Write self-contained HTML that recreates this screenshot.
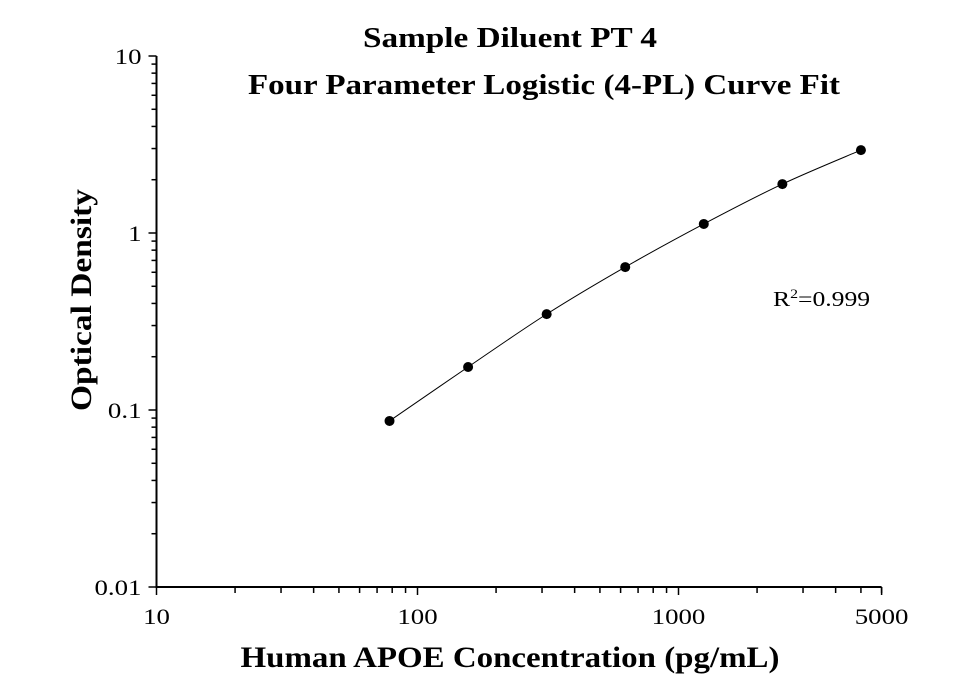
<!DOCTYPE html>
<html><head><meta charset="utf-8"><style>
body{margin:0;background:#fff;}
svg text{font-family:"Liberation Serif",serif;fill:#000;}
</style></head><body>
<svg width="969" height="682">
<text x="510" y="47" text-anchor="middle" font-size="28" font-weight="bold" data-w="294">Sample Diluent PT 4</text>
<text x="544" y="94" text-anchor="middle" font-size="28" font-weight="bold" data-w="592">Four Parameter Logistic (4-PL) Curve Fit</text>
<text transform="translate(91,300) rotate(-90)" text-anchor="middle" font-size="30" font-weight="bold" data-w="222">Optical Density</text>
<text x="510" y="667" text-anchor="middle" font-size="30" font-weight="bold" data-w="539">Human APOE Concentration (pg/mL)</text>
<text x="773" y="306" font-size="21">R<tspan dy="-8" font-size="13">2</tspan><tspan dy="8">=0.999</tspan></text>
<g id="axes"></g>
<g id="plot"></g>
</svg>
<script>
const concentrations=[78.125,156.25,312.5,625,1250,2500,5000];
const odValues=[0.0867,0.175,0.348,0.642,1.125,1.89,2.94];
const xTickLabels=["10","100","1000","5000"];
const xTickValues=[10,100,1000,6000];
const yTickLabels=["0.01","0.1","1","10"];
const yTickValues=[0.01,0.1,1,10];
const NS="http://www.w3.org/2000/svg";
const X0=156.5,XD=261,Y0=233,YD=177;
const xs=v=>X0+(Math.log10(v)-1)*XD;
const ys=v=>Y0-Math.log10(v)*YD;
const axes=document.getElementById('axes'),plot=document.getElementById('plot');
function mk(t,a,p){const e=document.createElementNS(NS,t);for(const k in a)e.setAttribute(k,a[k]);p.appendChild(e);return e;}
const yAxis=mk('line',{x1:X0,x2:X0,y1:ys(10),y2:ys(0.01)+1,stroke:'#000','stroke-width':2},axes);


const xAxis=mk('line',{x1:X0-1,x2:xs(6000),y1:ys(0.01),y2:ys(0.01),stroke:'#000','stroke-width':2},axes);


for(let d=-2;d<1;d++){for(let m=1;m<=9;m++){const v=m*Math.pow(10,d);const y=ys(v);
const t=mk('line',{x1:X0,x2:X0-(m===1?8:5),y1:y,y2:y,stroke:'#000','stroke-width':1.5},axes);

}}
mk('line',{x1:X0,x2:X0-8,y1:ys(10),y2:ys(10),stroke:'#000','stroke-width':1.5},axes);
yTickValues.forEach((v,i)=>{const t=mk('text',{x:X0-15,y:ys(v)+8,'text-anchor':'end','font-size':22},axes);t.textContent=yTickLabels[i];

});
for(let d=1;d<4;d++){for(let m=1;m<=9;m++){const v=m*Math.pow(10,d);if(v>6000)break;const x=xs(v);
const t=mk('line',{x1:x,x2:x,y1:ys(0.01),y2:ys(0.01)+(m===1?8:6),stroke:'#000','stroke-width':1.5},axes);

}}
mk('line',{x1:xs(6000),x2:xs(6000),y1:ys(0.01),y2:ys(0.01)+8,stroke:'#000','stroke-width':1.5},axes);
xTickValues.forEach((v,i)=>{const t=mk('text',{x:xs(v),y:ys(0.01)+37,'text-anchor':'middle','font-size':22},axes);t.textContent=xTickLabels[i];

});
const P=concentrations.map((c,i)=>[xs(c),ys(odValues[i])]);
let d='M'+P[0][0]+','+P[0][1];
for(let i=0;i<P.length-1;i++){const p0=P[Math.max(0,i-1)],p1=P[i],p2=P[i+1],p3=P[Math.min(P.length-1,i+2)];
d+=` C${p1[0]+(p2[0]-p0[0])/6},${p1[1]+(p2[1]-p0[1])/6} ${p2[0]-(p3[0]-p1[0])/6},${p2[1]-(p3[1]-p1[1])/6} ${p2[0]},${p2[1]}`;}
const curve=mk('path',{d:d,fill:'none',stroke:'#000','stroke-width':1},plot);


P.forEach(p=>{const c=mk('circle',{cx:p[0],cy:p[1],r:5,fill:'#000'},plot);

});
// horizontal stretch of text to match reference proportions
document.querySelectorAll('svg text').forEach(t=>{
  const w=t.getAttribute('data-w');
  const L=w?+w:t.getComputedTextLength()*1.22;
  t.setAttribute('textLength',L);
  t.setAttribute('lengthAdjust','spacingAndGlyphs');
});
</script>
</body></html>
